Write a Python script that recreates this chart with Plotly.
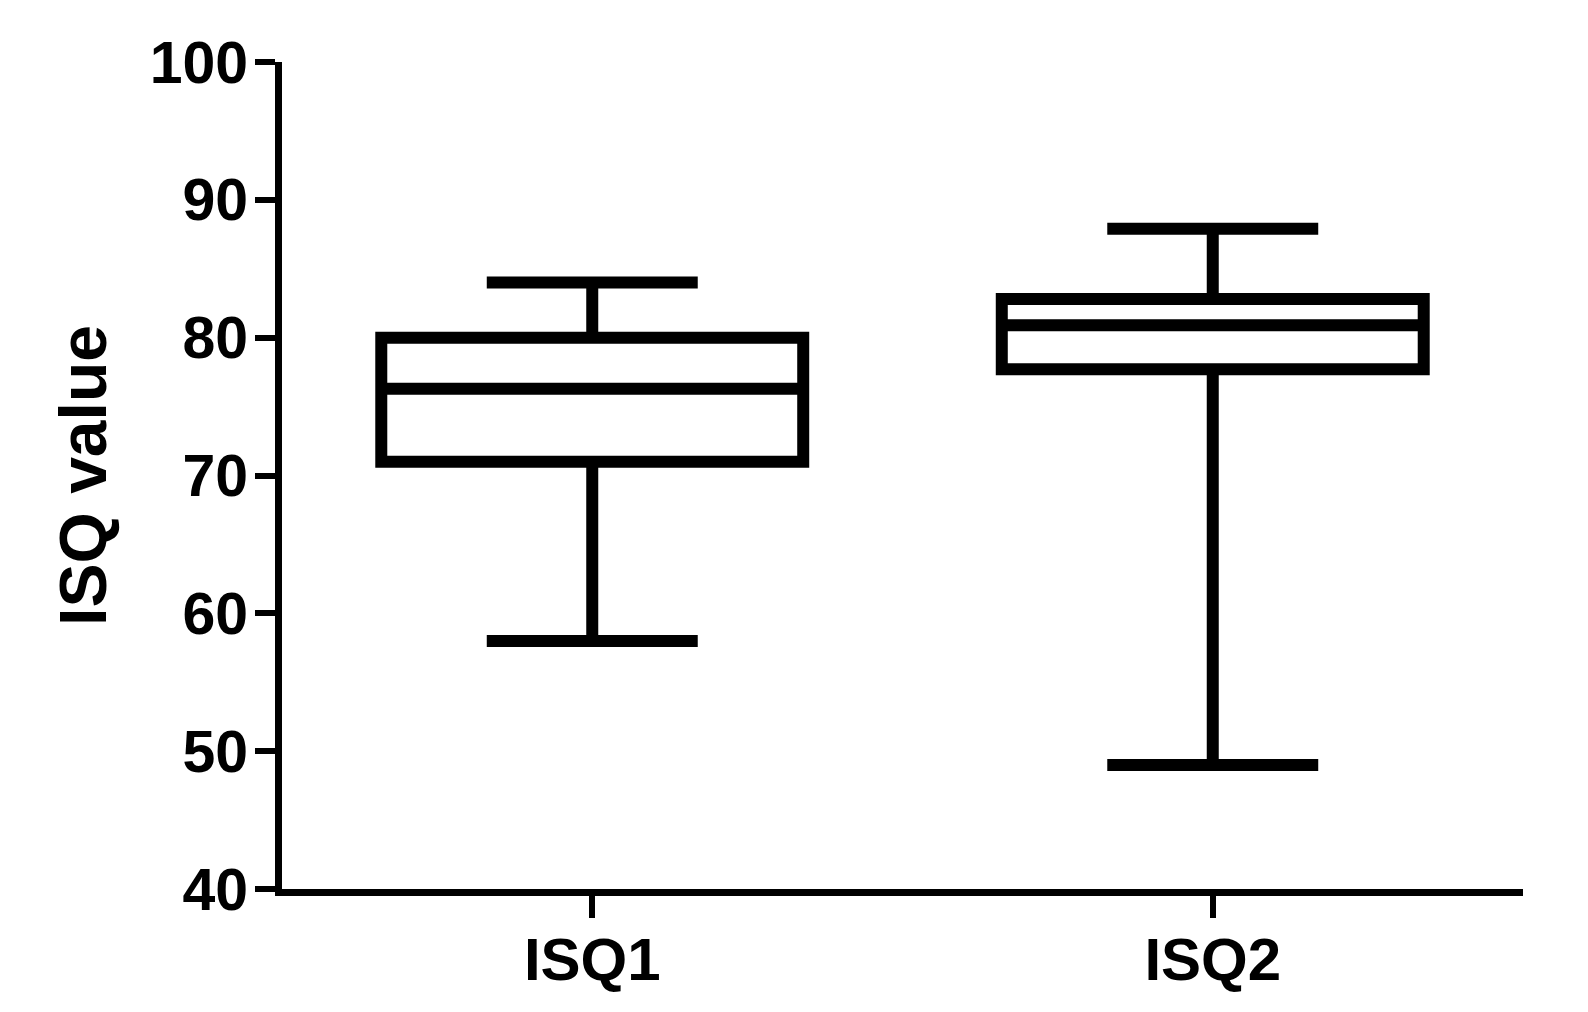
import plotly.graph_objects as go

# values
groups = ["ISQ1", "ISQ2"]
lower = [58, 49]
q1 = [71, 77.7]
median = [76.3, 80.9]
q3 = [80, 82.8]
upper = [84, 87.9]

y_ticks = [40, 50, 60, 70, 80, 90, 100]

font_family = "Liberation Sans, Arial, sans-serif"

fig = go.Figure()
fig.add_trace(go.Box(
    x=groups,
    q1=q1,
    median=median,
    q3=q3,
    lowerfence=lower,
    upperfence=upper,
    width=0.68,
    whiskerwidth=0.5,
    fillcolor="white",
    line=dict(color="black", width=12),
    boxpoints=False,
    showlegend=False,
))

# the page body adds 8px, so margins are shifted to line up with the reference
fig.update_layout(
    width=1588,
    height=1012,
    paper_bgcolor="white",
    plot_bgcolor="white",
    margin=dict(l=274, r=73, t=54, b=131),
    font=dict(family=font_family, color="black", size=58, weight="bold"),
)

fig.update_xaxes(
    type="category",
    range=[-0.5, 1.5],
    showline=True,
    linecolor="black",
    linewidth=7,
    ticks="outside",
    ticklen=22,
    tickwidth=6,
    tickcolor="black",
    showgrid=False,
    zeroline=False,
    ticklabelstandoff=-10,
    tickfont=dict(size=60, weight="bold"),
)

fig.update_yaxes(
    range=[40, 100],
    tickvals=y_ticks,
    showline=True,
    linecolor="black",
    linewidth=7,
    ticks="outside",
    ticklen=20,
    tickwidth=6,
    tickcolor="black",
    showgrid=False,
    zeroline=False,
    ticklabelstandoff=-5,
    tickfont=dict(size=59, weight="bold"),
    title=dict(text="ISQ value", font=dict(size=66, weight="bold"), standoff=24),
)

fig.write_html("out.html")
